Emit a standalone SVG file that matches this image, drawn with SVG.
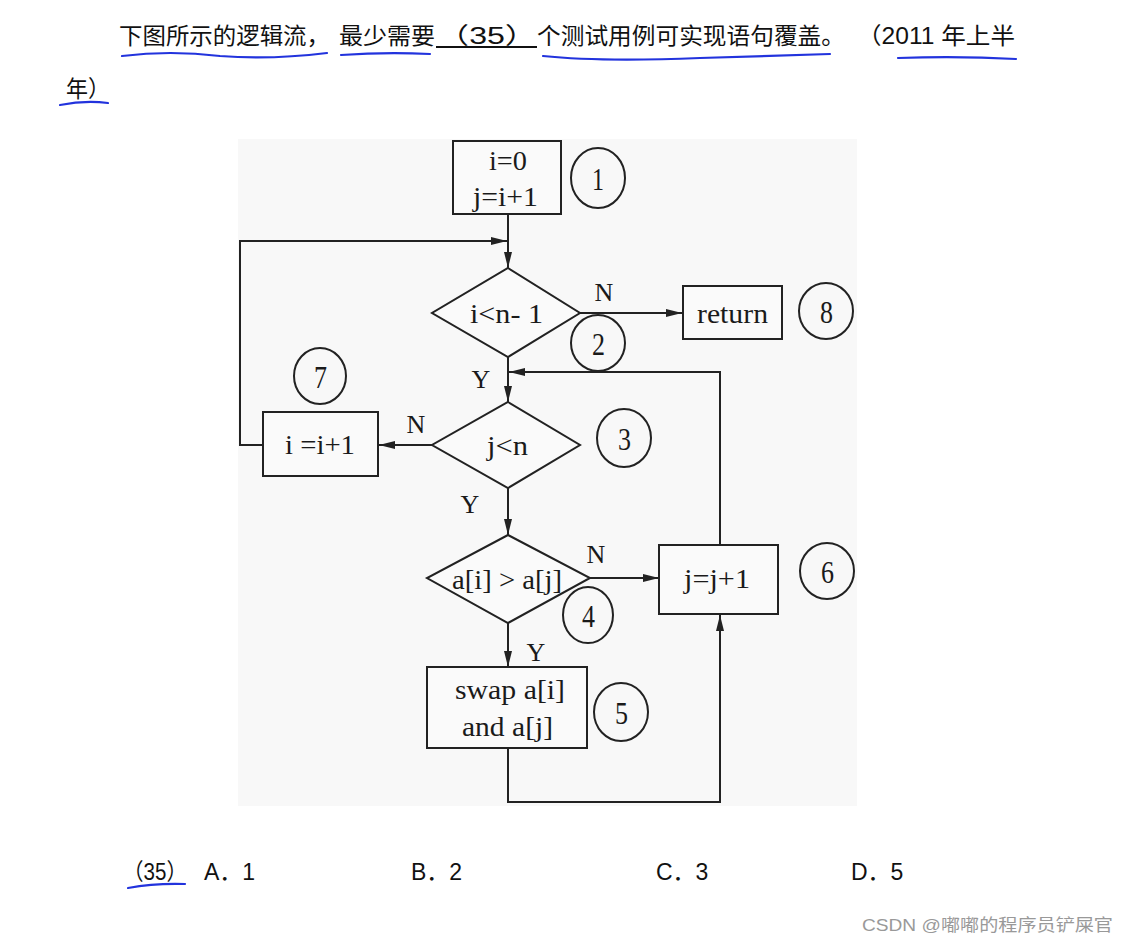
<svg xmlns="http://www.w3.org/2000/svg" width="1129" height="944" viewBox="0 0 1129 944">
<defs>
<style>
.hd{font-family:"Liberation Sans","Noto Sans CJK SC",sans-serif;font-size:23px;fill:#111}
.fc{font-family:"Liberation Serif","DejaVu Serif",serif;font-size:27px;fill:#1a1a1a}
.lb{font-family:"Liberation Serif","DejaVu Serif",serif;font-size:26px;fill:#1a1a1a;text-anchor:middle}
.num{font-family:"Liberation Serif","DejaVu Serif",serif;font-size:32px;fill:#1a1a1a}
.shape{fill:none;stroke:#222;stroke-width:2}
.box{fill:#fafafa;stroke:#222;stroke-width:2}
.ln{fill:none;stroke:#222;stroke-width:2}
.blue{fill:none;stroke:#2233dd;stroke-width:2.2;stroke-linecap:round}
.wm{font-family:"Liberation Sans","Noto Sans CJK SC",sans-serif;font-size:17px;fill:#999}
</style>
<marker id="ah" viewBox="0 0 16 8" refX="16" refY="4" markerWidth="16" markerHeight="8" markerUnits="userSpaceOnUse" orient="auto">
<path d="M0,0 L16,4 L0,8 z" fill="#222"/>
</marker>
</defs>
<rect width="1129" height="944" fill="#ffffff"/>
<g id="question">
<text class="hd" x="119" y="44" textLength="211" lengthAdjust="spacingAndGlyphs">下图所示的逻辑流，</text>
<text class="hd" x="339" y="44" textLength="96" lengthAdjust="spacingAndGlyphs">最少需要</text>
<text class="hd" x="437" y="44" textLength="100" lengthAdjust="spacingAndGlyphs">（35）</text>
<line x1="436" y1="47" x2="537" y2="47" stroke="#111" stroke-width="2"/>
<text class="hd" x="537" y="44" textLength="308" lengthAdjust="spacingAndGlyphs">个测试用例可实现语句覆盖。</text>
<text class="hd" x="857" y="44" textLength="158" lengthAdjust="spacingAndGlyphs">（2011 年上半</text>
<text class="hd" x="66" y="97" textLength="44" lengthAdjust="spacingAndGlyphs">年）</text>
<path class="blue" d="M122,56 Q170,50 220,56 Q270,60 327,53"/>
<path class="blue" d="M341,55 Q385,52 430,54"/>
<path class="blue" d="M543,56 Q600,62 700,58 Q770,56 830,54"/>
<path class="blue" d="M898,58 Q960,56 1016,59"/>
<path class="blue" d="M60,105 Q85,100 108,103"/>
</g>
<rect x="238" y="139" width="619" height="667" fill="#f8f8f8"/>
<g id="connectors">
<line class="ln" x1="508" y1="214" x2="508" y2="268" marker-end="url(#ah)"/>
<polyline class="ln" points="263,445 240,445 240,241 507,241" marker-end="url(#ah)"/>
<line class="ln" x1="580" y1="313" x2="682" y2="313" marker-end="url(#ah)"/>
<line class="ln" x1="508" y1="357" x2="508" y2="402" marker-end="url(#ah)"/>
<polyline class="ln" points="720,545 720,372 509,372" marker-end="url(#ah)"/>
<line class="ln" x1="432" y1="445" x2="379" y2="445" marker-end="url(#ah)"/>
<line class="ln" x1="508" y1="488" x2="508" y2="535" marker-end="url(#ah)"/>
<line class="ln" x1="590" y1="578" x2="659" y2="578" marker-end="url(#ah)"/>
<line class="ln" x1="508" y1="623" x2="508" y2="667" marker-end="url(#ah)"/>
<polyline class="ln" points="508,748 508,802 720,802 720,615" marker-end="url(#ah)"/>
<text class="lb" x="604" y="301">N</text>
<text class="lb" x="481" y="388">Y</text>
<text class="lb" x="416" y="433">N</text>
<text class="lb" x="470" y="513">Y</text>
<text class="lb" x="596" y="563">N</text>
<text class="lb" x="536" y="661">Y</text>
</g>
<g id="node1">
<rect class="box" x="453" y="141" width="108" height="73"/>
<text class="fc" x="489" y="170" textLength="38" lengthAdjust="spacingAndGlyphs">i=0</text>
<text class="fc" x="473" y="206" textLength="65" lengthAdjust="spacingAndGlyphs">j=i+1</text>
<ellipse class="shape" cx="598" cy="178" rx="27" ry="30"/>
<text class="num" x="592" y="190" textLength="12" lengthAdjust="spacingAndGlyphs">1</text>
</g>
<g id="node2">
<polygon class="box" points="508,268 580,313 508,357 432,313"/>
<text class="fc" x="470" y="323" textLength="73" lengthAdjust="spacingAndGlyphs">i&lt;n- 1</text>
<ellipse class="shape" cx="598" cy="343" rx="27" ry="28"/>
<text class="num" x="592" y="355" textLength="13" lengthAdjust="spacingAndGlyphs">2</text>
</g>
<g id="node8">
<rect class="box" x="683" y="286" width="99" height="53"/>
<text class="fc" x="697" y="323" textLength="71" lengthAdjust="spacingAndGlyphs">return</text>
<ellipse class="shape" cx="826" cy="311" rx="27" ry="28"/>
<text class="num" x="820" y="323" textLength="13" lengthAdjust="spacingAndGlyphs">8</text>
</g>
<g id="node3">
<polygon class="box" points="508,402 580,445 508,488 432,445"/>
<text class="fc" x="487" y="455" textLength="41" lengthAdjust="spacingAndGlyphs">j&lt;n</text>
<ellipse class="shape" cx="624" cy="438" rx="27" ry="29"/>
<text class="num" x="618" y="450" textLength="13" lengthAdjust="spacingAndGlyphs">3</text>
</g>
<g id="node7">
<rect class="box" x="263" y="412" width="115" height="64"/>
<text class="fc" x="285" y="454" textLength="70" lengthAdjust="spacingAndGlyphs">i =i+1</text>
<ellipse class="shape" cx="320" cy="376" rx="26" ry="28"/>
<text class="num" x="314" y="388" textLength="13" lengthAdjust="spacingAndGlyphs">7</text>
</g>
<g id="node4">
<polygon class="box" points="508,535 590,578 508,623 427,578"/>
<text class="fc" x="452" y="589" textLength="110" lengthAdjust="spacingAndGlyphs">a[i] &gt; a[j]</text>
<ellipse class="shape" cx="588" cy="615" rx="25" ry="28"/>
<text class="num" x="582" y="627" textLength="13" lengthAdjust="spacingAndGlyphs">4</text>
</g>
<g id="node6">
<rect class="box" x="659" y="545" width="119" height="69"/>
<text class="fc" x="684" y="588" textLength="66" lengthAdjust="spacingAndGlyphs">j=j+1</text>
<ellipse class="shape" cx="827" cy="571" rx="27" ry="28"/>
<text class="num" x="821" y="583" textLength="13" lengthAdjust="spacingAndGlyphs">6</text>
</g>
<g id="node5">
<rect class="box" x="427" y="667" width="160" height="81"/>
<text class="fc" x="455" y="699" textLength="110" lengthAdjust="spacingAndGlyphs">swap a[i]</text>
<text class="fc" x="462" y="736" textLength="91" lengthAdjust="spacingAndGlyphs">and a[j]</text>
<ellipse class="shape" cx="621" cy="712" rx="27" ry="29"/>
<text class="num" x="615" y="724" textLength="13" lengthAdjust="spacingAndGlyphs">5</text>
</g>
<g id="options">
<text class="hd" x="123" y="880" textLength="64" lengthAdjust="spacingAndGlyphs">（35）</text>
<text class="hd" x="204" y="880">A．1</text>
<text class="hd" x="411" y="880">B．2</text>
<text class="hd" x="656" y="880">C．3</text>
<text class="hd" x="851" y="880">D．5</text>
<path class="blue" d="M128,888 Q155,883 185,884"/>
</g>
<text class="wm" x="862" y="931" textLength="251" lengthAdjust="spacingAndGlyphs">CSDN @嘟嘟的程序员铲屎官</text>
</svg>
